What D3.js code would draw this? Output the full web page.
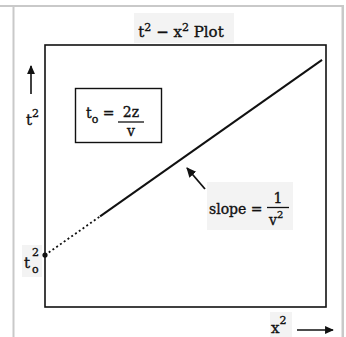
<!DOCTYPE html>
<html>
<head>
<meta charset="utf-8">
<script src="https://cdn.jsdelivr.net/npm/d3@7"></script>
<style>
  html, body { margin: 0; padding: 0; background: #fff; }
  svg { display: block; }
  text { font-family: "DejaVu Serif", "Liberation Serif", serif; fill: #111; stroke: #111; stroke-width: 0.35px; }
</style>
</head>
<body>
<svg id="chart" width="346" height="337"></svg>
<script>
// Extrapolated part of the reflection hyperbola in t²–x² space (dotted, back to the intercept)
const dottedX = [0, 0.196];
const dottedT = [0.198, 0.346];
// Measured part (solid)
const solidX = [0.196, 0.986];
const solidT = [0.346, 0.943];
// Zero-offset intercept t0²
const interceptX = [0];
const interceptT = [0.198];

const svg = d3.select("#chart");
const frame = { left: 45, top: 45, right: 326, bottom: 307 };

const x = d3.scaleLinear().domain([0, 1]).range([frame.left, frame.right]);
const y = d3.scaleLinear().domain([0, 1]).range([frame.bottom, frame.top]);

// Page border (light grey rules)
const g0 = svg.append("g").attr("fill", "#c9c9c9");
g0.append("rect").attr("x", 0).attr("y", 5).attr("width", 344).attr("height", 2);
g0.append("rect").attr("x", 12.5).attr("y", 6).attr("width", 2).attr("height", 331);
g0.append("rect").attr("x", 341.5).attr("y", 6).attr("width", 2.5).attr("height", 331);

// Arrow markers
const defs = svg.append("defs");
defs.append("marker").attr("id", "head")
  .attr("viewBox", "0 0 10 10").attr("refX", 9).attr("refY", 5)
  .attr("markerWidth", 5.5).attr("markerHeight", 5.5).attr("markerUnits", "strokeWidth")
  .attr("orient", "auto")
  .append("path").attr("d", "M0,0.5 L10,5 L0,9.5 Z").attr("fill", "#111");

// Label backgrounds
const bg = svg.append("g").attr("fill", "#f3f3f3");
bg.append("rect").attr("x", 134).attr("y", 13).attr("width", 100).attr("height", 30);
bg.append("rect").attr("x", 207).attr("y", 182).attr("width", 86).attr("height", 48);
bg.append("rect").attr("x", 22).attr("y", 245).attr("width", 20).attr("height", 32);
bg.append("rect").attr("x", 270).attr("y", 312).attr("width", 22).attr("height", 25);

// Plot frame
svg.append("rect")
  .attr("x", x(0)).attr("y", y(1))
  .attr("width", x(1) - x(0)).attr("height", y(0) - y(1))
  .attr("fill", "none").attr("stroke", "#111").attr("stroke-width", 1.6);

// Title
const title = svg.append("text").attr("x", 181).attr("y", 37)
  .attr("text-anchor", "middle").attr("font-size", 15);
title.append("tspan").text("t");
title.append("tspan").attr("dy", -6).attr("font-size", 11).text("2");
title.append("tspan").attr("dy", 6).text(" \u2212 x");
title.append("tspan").attr("dy", -6).attr("font-size", 11).text("2");
title.append("tspan").attr("dy", 6).text(" Plot");

// Line data
const line = d3.line().x(d => x(d[0])).y(d => y(d[1]));
svg.append("path")
  .datum(d3.zip(dottedX, dottedT))
  .attr("d", line).attr("fill", "none")
  .attr("stroke", "#111").attr("stroke-width", 1.8)
  .attr("stroke-dasharray", "2,2.6");
svg.append("path")
  .datum(d3.zip(solidX, solidT))
  .attr("d", line).attr("fill", "none")
  .attr("stroke", "#111").attr("stroke-width", 2);
svg.selectAll("circle.intercept")
  .data(d3.zip(interceptX, interceptT))
  .join("circle").attr("class", "intercept")
  .attr("cx", d => x(d[0])).attr("cy", d => y(d[1])).attr("r", 2.6)
  .attr("fill", "#111");

// Intercept label t0²
const t0 = svg.append("text").attr("x", 24).attr("y", 268).attr("font-size", 15);
t0.append("tspan").text("t");
t0.append("tspan").attr("x", 32).attr("dy", -12).attr("font-size", 11).text("2");
t0.append("tspan").attr("x", 32).attr("dy", 17).attr("font-size", 11).text("o");

// y axis label with arrow
svg.append("line").attr("x1", 31).attr("x2", 31).attr("y1", 94).attr("y2", 66)
  .attr("stroke", "#111").attr("stroke-width", 1.6).attr("marker-end", "url(#head)");
const yl = svg.append("text").attr("x", 26).attr("y", 125).attr("font-size", 15);
yl.append("tspan").text("t");
yl.append("tspan").attr("dy", -8).attr("font-size", 11).text("2");

// x axis label with arrow
const xl = svg.append("text").attr("x", 271).attr("y", 333).attr("font-size", 15);
xl.append("tspan").text("x");
xl.append("tspan").attr("dy", -9).attr("font-size", 11).text("2");
svg.append("line").attr("x1", 297).attr("x2", 333).attr("y1", 330).attr("y2", 330)
  .attr("stroke", "#111").attr("stroke-width", 1.6).attr("marker-end", "url(#head)");

// Equation box: t0 = 2z / v
svg.append("rect").attr("x", 75.5).attr("y", 88.5).attr("width", 86).attr("height", 54)
  .attr("fill", "#fff").attr("stroke", "#111").attr("stroke-width", 1.4);
const eq = svg.append("text").attr("x", 86).attr("y", 118).attr("font-size", 14);
eq.append("tspan").text("t");
eq.append("tspan").attr("dy", 5).attr("font-size", 11).text("o");
eq.append("tspan").attr("dy", -5).text(" =");
svg.append("text").attr("x", 131).attr("y", 117).attr("text-anchor", "middle")
  .attr("font-size", 14).text("2z");
svg.append("line").attr("x1", 118).attr("x2", 144).attr("y1", 122).attr("y2", 122)
  .attr("stroke", "#111").attr("stroke-width", 1.3);
svg.append("text").attr("x", 131).attr("y", 136).attr("text-anchor", "middle")
  .attr("font-size", 14).text("v");

// Slope annotation
svg.append("line").attr("x1", 205).attr("y1", 189).attr("x2", 187).attr("y2", 168)
  .attr("stroke", "#111").attr("stroke-width", 1.8).attr("marker-end", "url(#head)");
svg.append("text").attr("x", 209).attr("y", 214).attr("font-size", 14).text("slope =");
svg.append("text").attr("x", 278).attr("y", 203).attr("text-anchor", "middle")
  .attr("font-size", 14).text("1");
svg.append("line").attr("x1", 267).attr("x2", 289).attr("y1", 207.5).attr("y2", 207.5)
  .attr("stroke", "#111").attr("stroke-width", 1.3);
const v2 = svg.append("text").attr("x", 269).attr("y", 225).attr("font-size", 14);
v2.append("tspan").text("v");
v2.append("tspan").attr("dy", -7).attr("font-size", 10).text("2");
</script>
</body>
</html>
